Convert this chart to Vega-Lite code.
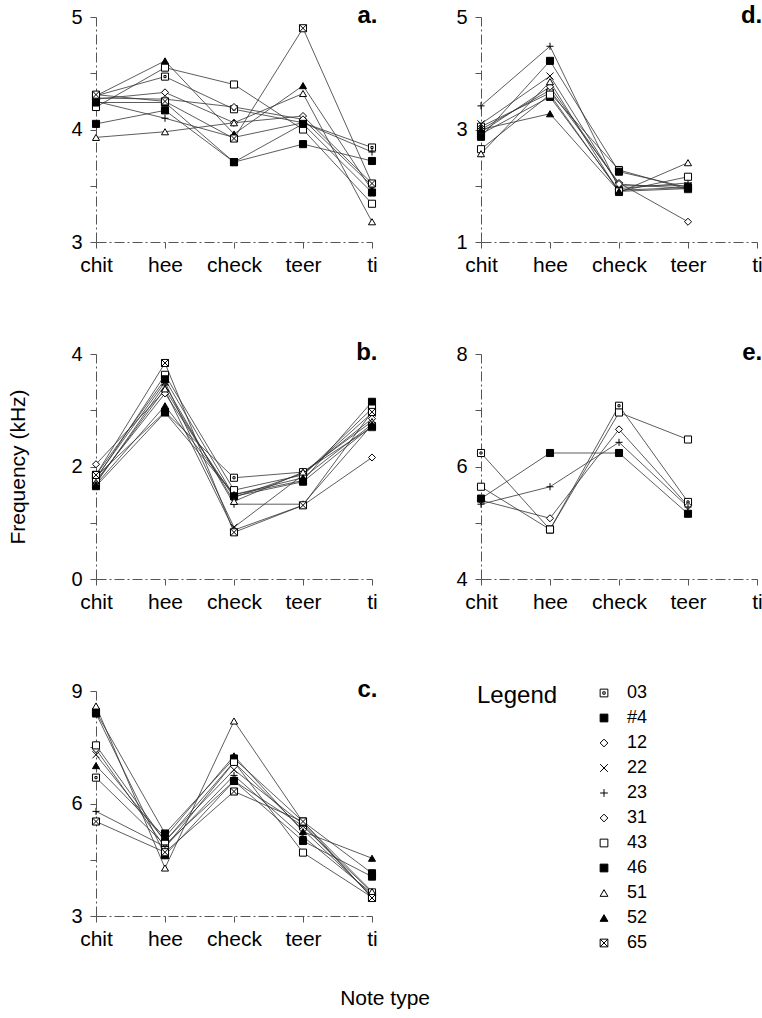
{
  "$schema": "https://vega.github.io/schema/vega-lite/v6.json",
  "background": "white",
  "padding": {"left": 7, "top": 4, "right": 2, "bottom": 2},
  "title": {"text": "Note type", "orient": "bottom", "anchor": "middle", "fontSize": 21, "fontWeight": "normal", "font": "Liberation Sans", "color": "black", "offset": 36},
  "columns": 2,
  "spacing": {"row": 66, "column": 77},
  "resolve": {"scale": {"x": "independent", "y": "independent", "shape": "shared", "fill": "shared", "stroke": "shared"}, "legend": {"shape": "shared", "fill": "shared", "stroke": "shared"}},
  "datasets": {
    "notes": [
      {"panel": "a", "series": "03", "note": "chit", "freq": 4.30}, {"panel": "a", "series": "03", "note": "hee", "freq": 4.47}, {"panel": "a", "series": "03", "note": "check", "freq": 4.18}, {"panel": "a", "series": "03", "note": "teer", "freq": 4.06}, {"panel": "a", "series": "03", "note": "ti", "freq": 3.84},
      {"panel": "a", "series": "#4", "note": "chit", "freq": 4.05}, {"panel": "a", "series": "#4", "note": "hee", "freq": 4.17}, {"panel": "a", "series": "#4", "note": "check", "freq": 3.71}, {"panel": "a", "series": "#4", "note": "teer", "freq": 3.87}, {"panel": "a", "series": "#4", "note": "ti", "freq": 3.72},
      {"panel": "a", "series": "12", "note": "chit", "freq": 4.27}, {"panel": "a", "series": "12", "note": "hee", "freq": 4.33}, {"panel": "a", "series": "12", "note": "check", "freq": 4.06}, {"panel": "a", "series": "12", "note": "teer", "freq": 4.12}, {"panel": "a", "series": "12", "note": "ti", "freq": 3.52},
      {"panel": "a", "series": "23", "note": "chit", "freq": 4.25}, {"panel": "a", "series": "23", "note": "hee", "freq": 4.10}, {"panel": "a", "series": "23", "note": "check", "freq": 3.93}, {"panel": "a", "series": "23", "note": "teer", "freq": 4.06}, {"panel": "a", "series": "23", "note": "ti", "freq": 3.80},
      {"panel": "a", "series": "31", "note": "chit", "freq": 4.28}, {"panel": "a", "series": "31", "note": "hee", "freq": 4.27}, {"panel": "a", "series": "31", "note": "check", "freq": 4.20}, {"panel": "a", "series": "31", "note": "teer", "freq": 4.09}, {"panel": "a", "series": "31", "note": "ti", "freq": 3.50},
      {"panel": "a", "series": "43", "note": "chit", "freq": 4.20}, {"panel": "a", "series": "43", "note": "hee", "freq": 4.55}, {"panel": "a", "series": "43", "note": "check", "freq": 4.40}, {"panel": "a", "series": "43", "note": "teer", "freq": 4.00}, {"panel": "a", "series": "43", "note": "ti", "freq": 3.34},
      {"panel": "a", "series": "46", "note": "chit", "freq": 4.24}, {"panel": "a", "series": "46", "note": "hee", "freq": 4.24}, {"panel": "a", "series": "46", "note": "check", "freq": 3.71}, {"panel": "a", "series": "46", "note": "teer", "freq": 4.05}, {"panel": "a", "series": "46", "note": "ti", "freq": 3.44},
      {"panel": "a", "series": "51", "note": "chit", "freq": 3.93}, {"panel": "a", "series": "51", "note": "hee", "freq": 3.98}, {"panel": "a", "series": "51", "note": "check", "freq": 4.06}, {"panel": "a", "series": "51", "note": "teer", "freq": 4.32}, {"panel": "a", "series": "51", "note": "ti", "freq": 3.18},
      {"panel": "a", "series": "52", "note": "chit", "freq": 4.30}, {"panel": "a", "series": "52", "note": "hee", "freq": 4.61}, {"panel": "a", "series": "52", "note": "check", "freq": 3.96}, {"panel": "a", "series": "52", "note": "teer", "freq": 4.39}, {"panel": "a", "series": "52", "note": "ti", "freq": 3.46},
      {"panel": "a", "series": "65", "note": "chit", "freq": 4.31}, {"panel": "a", "series": "65", "note": "hee", "freq": 4.25}, {"panel": "a", "series": "65", "note": "check", "freq": 3.92}, {"panel": "a", "series": "65", "note": "teer", "freq": 4.90}, {"panel": "a", "series": "65", "note": "ti", "freq": 3.52},

      {"panel": "d", "series": "03", "note": "chit", "freq": 3.05}, {"panel": "d", "series": "03", "note": "hee", "freq": 3.65}, {"panel": "d", "series": "03", "note": "check", "freq": 2.28}, {"panel": "d", "series": "03", "note": "teer", "freq": 1.94},
      {"panel": "d", "series": "#4", "note": "chit", "freq": 2.92}, {"panel": "d", "series": "#4", "note": "hee", "freq": 3.58}, {"panel": "d", "series": "#4", "note": "check", "freq": 1.92}, {"panel": "d", "series": "#4", "note": "teer", "freq": 1.97},
      {"panel": "d", "series": "12", "note": "chit", "freq": 3.00}, {"panel": "d", "series": "12", "note": "hee", "freq": 3.70}, {"panel": "d", "series": "12", "note": "check", "freq": 2.05}, {"panel": "d", "series": "12", "note": "teer", "freq": 1.36},
      {"panel": "d", "series": "22", "note": "chit", "freq": 3.10}, {"panel": "d", "series": "22", "note": "hee", "freq": 3.95}, {"panel": "d", "series": "22", "note": "check", "freq": 2.00}, {"panel": "d", "series": "22", "note": "teer", "freq": 2.00},
      {"panel": "d", "series": "23", "note": "chit", "freq": 3.42}, {"panel": "d", "series": "23", "note": "hee", "freq": 4.48}, {"panel": "d", "series": "23", "note": "check", "freq": 1.95}, {"panel": "d", "series": "23", "note": "teer", "freq": 2.05},
      {"panel": "d", "series": "31", "note": "chit", "freq": 2.95}, {"panel": "d", "series": "31", "note": "hee", "freq": 3.76}, {"panel": "d", "series": "31", "note": "check", "freq": 2.03}, {"panel": "d", "series": "31", "note": "teer", "freq": 1.95},
      {"panel": "d", "series": "43", "note": "chit", "freq": 2.65}, {"panel": "d", "series": "43", "note": "hee", "freq": 3.62}, {"panel": "d", "series": "43", "note": "check", "freq": 1.90}, {"panel": "d", "series": "43", "note": "teer", "freq": 2.16},
      {"panel": "d", "series": "46", "note": "chit", "freq": 2.87}, {"panel": "d", "series": "46", "note": "hee", "freq": 4.22}, {"panel": "d", "series": "46", "note": "check", "freq": 2.25}, {"panel": "d", "series": "46", "note": "teer", "freq": 1.97},
      {"panel": "d", "series": "51", "note": "chit", "freq": 2.57}, {"panel": "d", "series": "51", "note": "hee", "freq": 3.85}, {"panel": "d", "series": "51", "note": "check", "freq": 1.88}, {"panel": "d", "series": "51", "note": "teer", "freq": 2.41},
      {"panel": "d", "series": "52", "note": "chit", "freq": 3.00}, {"panel": "d", "series": "52", "note": "hee", "freq": 3.28}, {"panel": "d", "series": "52", "note": "check", "freq": 1.90}, {"panel": "d", "series": "52", "note": "teer", "freq": 1.95},

      {"panel": "b", "series": "03", "note": "chit", "freq": 1.82}, {"panel": "b", "series": "03", "note": "hee", "freq": 2.97}, {"panel": "b", "series": "03", "note": "check", "freq": 1.80}, {"panel": "b", "series": "03", "note": "teer", "freq": 1.90}, {"panel": "b", "series": "03", "note": "ti", "freq": 2.70},
      {"panel": "b", "series": "#4", "note": "chit", "freq": 1.65}, {"panel": "b", "series": "#4", "note": "hee", "freq": 2.96}, {"panel": "b", "series": "#4", "note": "check", "freq": 1.50}, {"panel": "b", "series": "#4", "note": "teer", "freq": 1.75}, {"panel": "b", "series": "#4", "note": "ti", "freq": 3.15},
      {"panel": "b", "series": "12", "note": "chit", "freq": 2.04}, {"panel": "b", "series": "12", "note": "hee", "freq": 3.35}, {"panel": "b", "series": "12", "note": "check", "freq": 0.87}, {"panel": "b", "series": "12", "note": "teer", "freq": 1.31}, {"panel": "b", "series": "12", "note": "ti", "freq": 2.16},
      {"panel": "b", "series": "22", "note": "chit", "freq": 1.80}, {"panel": "b", "series": "22", "note": "hee", "freq": 3.50}, {"panel": "b", "series": "22", "note": "check", "freq": 0.92}, {"panel": "b", "series": "22", "note": "teer", "freq": 1.85}, {"panel": "b", "series": "22", "note": "ti", "freq": 2.95},
      {"panel": "b", "series": "23", "note": "chit", "freq": 1.70}, {"panel": "b", "series": "23", "note": "hee", "freq": 3.45}, {"panel": "b", "series": "23", "note": "check", "freq": 1.33}, {"panel": "b", "series": "23", "note": "teer", "freq": 1.33}, {"panel": "b", "series": "23", "note": "ti", "freq": 2.74},
      {"panel": "b", "series": "31", "note": "chit", "freq": 1.75}, {"panel": "b", "series": "31", "note": "hee", "freq": 3.30}, {"panel": "b", "series": "31", "note": "check", "freq": 1.45}, {"panel": "b", "series": "31", "note": "teer", "freq": 1.88}, {"panel": "b", "series": "31", "note": "ti", "freq": 2.85},
      {"panel": "b", "series": "43", "note": "chit", "freq": 1.78}, {"panel": "b", "series": "43", "note": "hee", "freq": 3.63}, {"panel": "b", "series": "43", "note": "check", "freq": 1.58}, {"panel": "b", "series": "43", "note": "teer", "freq": 1.85}, {"panel": "b", "series": "43", "note": "ti", "freq": 3.03},
      {"panel": "b", "series": "46", "note": "chit", "freq": 1.85}, {"panel": "b", "series": "46", "note": "hee", "freq": 3.55}, {"panel": "b", "series": "46", "note": "check", "freq": 1.47}, {"panel": "b", "series": "46", "note": "teer", "freq": 1.73}, {"panel": "b", "series": "46", "note": "ti", "freq": 2.72},
      {"panel": "b", "series": "51", "note": "chit", "freq": 1.72}, {"panel": "b", "series": "51", "note": "hee", "freq": 3.38}, {"panel": "b", "series": "51", "note": "check", "freq": 1.38}, {"panel": "b", "series": "51", "note": "teer", "freq": 1.90}, {"panel": "b", "series": "51", "note": "ti", "freq": 2.80},
      {"panel": "b", "series": "52", "note": "chit", "freq": 1.68}, {"panel": "b", "series": "52", "note": "hee", "freq": 3.08}, {"panel": "b", "series": "52", "note": "check", "freq": 1.50}, {"panel": "b", "series": "52", "note": "teer", "freq": 1.80}, {"panel": "b", "series": "52", "note": "ti", "freq": 2.75},
      {"panel": "b", "series": "65", "note": "chit", "freq": 1.85}, {"panel": "b", "series": "65", "note": "hee", "freq": 3.84}, {"panel": "b", "series": "65", "note": "check", "freq": 0.83}, {"panel": "b", "series": "65", "note": "teer", "freq": 1.31}, {"panel": "b", "series": "65", "note": "ti", "freq": 2.97},

      {"panel": "e", "series": "03", "note": "chit", "freq": 6.24}, {"panel": "e", "series": "03", "note": "hee", "freq": 4.88}, {"panel": "e", "series": "03", "note": "check", "freq": 7.08}, {"panel": "e", "series": "03", "note": "teer", "freq": 5.37},
      {"panel": "e", "series": "12", "note": "chit", "freq": 5.40}, {"panel": "e", "series": "12", "note": "hee", "freq": 5.08}, {"panel": "e", "series": "12", "note": "check", "freq": 6.66}, {"panel": "e", "series": "12", "note": "teer", "freq": 5.30},
      {"panel": "e", "series": "23", "note": "chit", "freq": 5.33}, {"panel": "e", "series": "23", "note": "hee", "freq": 5.64}, {"panel": "e", "series": "23", "note": "check", "freq": 6.43}, {"panel": "e", "series": "23", "note": "teer", "freq": 5.28},
      {"panel": "e", "series": "43", "note": "chit", "freq": 5.64}, {"panel": "e", "series": "43", "note": "hee", "freq": 4.88}, {"panel": "e", "series": "43", "note": "check", "freq": 6.96}, {"panel": "e", "series": "43", "note": "teer", "freq": 6.48},
      {"panel": "e", "series": "46", "note": "chit", "freq": 5.43}, {"panel": "e", "series": "46", "note": "hee", "freq": 6.24}, {"panel": "e", "series": "46", "note": "check", "freq": 6.24}, {"panel": "e", "series": "46", "note": "teer", "freq": 5.16},

      {"panel": "c", "series": "03", "note": "chit", "freq": 6.69}, {"panel": "c", "series": "03", "note": "hee", "freq": 4.90}, {"panel": "c", "series": "03", "note": "check", "freq": 6.60}, {"panel": "c", "series": "03", "note": "teer", "freq": 5.40}, {"panel": "c", "series": "03", "note": "ti", "freq": 3.63},
      {"panel": "c", "series": "#4", "note": "chit", "freq": 8.44}, {"panel": "c", "series": "#4", "note": "hee", "freq": 5.20}, {"panel": "c", "series": "#4", "note": "check", "freq": 7.20}, {"panel": "c", "series": "#4", "note": "teer", "freq": 5.52}, {"panel": "c", "series": "#4", "note": "ti", "freq": 4.14},
      {"panel": "c", "series": "12", "note": "chit", "freq": 7.45}, {"panel": "c", "series": "12", "note": "hee", "freq": 4.83}, {"panel": "c", "series": "12", "note": "check", "freq": 7.10}, {"panel": "c", "series": "12", "note": "teer", "freq": 5.30}, {"panel": "c", "series": "12", "note": "ti", "freq": 3.55},
      {"panel": "c", "series": "22", "note": "chit", "freq": 7.30}, {"panel": "c", "series": "22", "note": "hee", "freq": 5.00}, {"panel": "c", "series": "22", "note": "check", "freq": 6.90}, {"panel": "c", "series": "22", "note": "teer", "freq": 5.45}, {"panel": "c", "series": "22", "note": "ti", "freq": 3.50},
      {"panel": "c", "series": "23", "note": "chit", "freq": 5.79}, {"panel": "c", "series": "23", "note": "hee", "freq": 4.85}, {"panel": "c", "series": "23", "note": "check", "freq": 6.75}, {"panel": "c", "series": "23", "note": "teer", "freq": 5.12}, {"panel": "c", "series": "23", "note": "ti", "freq": 3.60},
      {"panel": "c", "series": "43", "note": "chit", "freq": 7.55}, {"panel": "c", "series": "43", "note": "hee", "freq": 4.99}, {"panel": "c", "series": "43", "note": "check", "freq": 7.11}, {"panel": "c", "series": "43", "note": "teer", "freq": 4.69}, {"panel": "c", "series": "43", "note": "ti", "freq": 3.50},
      {"panel": "c", "series": "46", "note": "chit", "freq": 8.40}, {"panel": "c", "series": "46", "note": "hee", "freq": 4.62}, {"panel": "c", "series": "46", "note": "check", "freq": 6.60}, {"panel": "c", "series": "46", "note": "teer", "freq": 5.00}, {"panel": "c", "series": "46", "note": "ti", "freq": 4.05},
      {"panel": "c", "series": "51", "note": "chit", "freq": 8.60}, {"panel": "c", "series": "51", "note": "hee", "freq": 4.28}, {"panel": "c", "series": "51", "note": "check", "freq": 8.20}, {"panel": "c", "series": "51", "note": "teer", "freq": 5.50}, {"panel": "c", "series": "51", "note": "ti", "freq": 3.65},
      {"panel": "c", "series": "52", "note": "chit", "freq": 7.01}, {"panel": "c", "series": "52", "note": "hee", "freq": 5.10}, {"panel": "c", "series": "52", "note": "check", "freq": 7.27}, {"panel": "c", "series": "52", "note": "teer", "freq": 5.25}, {"panel": "c", "series": "52", "note": "ti", "freq": 4.54},
      {"panel": "c", "series": "65", "note": "chit", "freq": 5.52}, {"panel": "c", "series": "65", "note": "hee", "freq": 4.70}, {"panel": "c", "series": "65", "note": "check", "freq": 6.32}, {"panel": "c", "series": "65", "note": "teer", "freq": 5.52}, {"panel": "c", "series": "65", "note": "ti", "freq": 3.48}
    ]
  },
  "data": {"name": "notes"},
  "concat": [
    {
      "width": 276, "height": 225,
      "title": {"text": "a.", "anchor": "end", "offset": -21},
      "transform": [{"filter": "datum.panel == 'a'"}],
      "encoding": {
        "x": {"field": "note", "type": "ordinal", "sort": ["chit", "hee", "check", "teer", "ti"], "scale": {"type": "point", "domain": ["chit", "hee", "check", "teer", "ti"], "padding": 0}, "axis": {"title": null}},
        "y": {"field": "freq", "type": "quantitative", "scale": {"domain": [3, 5], "nice": false, "zero": false}, "axis": {"title": null, "values": [3, 3.5, 4, 4.5, 5], "labelExpr": "datum.value % 1 == 0 ? format(datum.value, 'd') : ''"}}
      },
      "layer": [
        {"mark": {"type": "line", "color": "#333", "strokeWidth": 0.8}, "encoding": {"detail": {"field": "series"}}},
        {"mark": {"type": "point", "filled": true, "strokeWidth": 1, "size": 50, "opacity": 1},
         "encoding": {
           "shape": {"field": "series", "type": "nominal", "scale": {"domain": ["03", "#4", "12", "22", "23", "31", "43", "46", "51", "52", "65"], "range": ["M-1,-1H1V1H-1Z M-0.3,-0.3H0.3V0.3H-0.3Z", "square", "diamond", "M-1,-1L1,1M-1,1L1,-1", "M-1,0H1M0,-1V1", "diamond", "square", "square", "triangle-up", "triangle-up", "M-1,-1H1V1H-1Z M-1,-1L1,1M1,-1L-1,1"]}, "legend": {"title": "Legend", "orient": "none", "legendX": 381, "legendY": 667}},
           "fill": {"field": "series", "type": "nominal", "scale": {"domain": ["03", "#4", "12", "22", "23", "31", "43", "46", "51", "52", "65"], "range": ["white", "black", "white", "white", "white", "white", "white", "black", "white", "black", "white"]}, "legend": {"title": "Legend", "orient": "none", "legendX": 381, "legendY": 667}},
           "stroke": {"field": "series", "type": "nominal", "scale": {"domain": ["03", "#4", "12", "22", "23", "31", "43", "46", "51", "52", "65"], "range": ["black", "black", "black", "black", "black", "black", "black", "black", "black", "black", "black"]}, "legend": {"title": "Legend", "orient": "none", "legendX": 381, "legendY": 667}}
         }}
      ]
    },
    {
      "width": 276, "height": 225,
      "title": {"text": "d.", "anchor": "end", "offset": -21},
      "transform": [{"filter": "datum.panel == 'd'"}],
      "encoding": {
        "x": {"field": "note", "type": "ordinal", "sort": ["chit", "hee", "check", "teer", "ti"], "scale": {"type": "point", "domain": ["chit", "hee", "check", "teer", "ti"], "padding": 0}, "axis": {"title": null}},
        "y": {"field": "freq", "type": "quantitative", "scale": {"domain": [1, 5], "nice": false, "zero": false}, "axis": {"title": null, "values": [1, 2, 3, 4, 5], "labelExpr": "datum.value % 2 == 1 ? datum.label : ''"}}
      },
      "layer": [
        {"mark": {"type": "line", "color": "#333", "strokeWidth": 0.8}, "encoding": {"detail": {"field": "series"}}},
        {"mark": {"type": "point", "filled": true, "strokeWidth": 1, "size": 50, "opacity": 1},
         "encoding": {
           "shape": {"field": "series", "type": "nominal", "scale": {"domain": ["03", "#4", "12", "22", "23", "31", "43", "46", "51", "52", "65"], "range": ["M-1,-1H1V1H-1Z M-0.3,-0.3H0.3V0.3H-0.3Z", "square", "diamond", "M-1,-1L1,1M-1,1L1,-1", "M-1,0H1M0,-1V1", "diamond", "square", "square", "triangle-up", "triangle-up", "M-1,-1H1V1H-1Z M-1,-1L1,1M1,-1L-1,1"]}, "legend": {"title": "Legend", "orient": "none", "legendX": 381, "legendY": 667}},
           "fill": {"field": "series", "type": "nominal", "scale": {"domain": ["03", "#4", "12", "22", "23", "31", "43", "46", "51", "52", "65"], "range": ["white", "black", "white", "white", "white", "white", "white", "black", "white", "black", "white"]}, "legend": {"title": "Legend", "orient": "none", "legendX": 381, "legendY": 667}},
           "stroke": {"field": "series", "type": "nominal", "scale": {"domain": ["03", "#4", "12", "22", "23", "31", "43", "46", "51", "52", "65"], "range": ["black", "black", "black", "black", "black", "black", "black", "black", "black", "black", "black"]}, "legend": {"title": "Legend", "orient": "none", "legendX": 381, "legendY": 667}}
         }}
      ]
    },
    {
      "width": 276, "height": 225,
      "title": {"text": "b.", "anchor": "end", "offset": -21},
      "transform": [{"filter": "datum.panel == 'b'"}],
      "encoding": {
        "x": {"field": "note", "type": "ordinal", "sort": ["chit", "hee", "check", "teer", "ti"], "scale": {"type": "point", "domain": ["chit", "hee", "check", "teer", "ti"], "padding": 0}, "axis": {"title": null}},
        "y": {"field": "freq", "type": "quantitative", "scale": {"domain": [0, 4], "nice": false, "zero": false}, "axis": {"title": "Frequency  (kHz)", "titlePadding": 42, "values": [0, 1, 2, 3, 4], "labelExpr": "datum.value % 2 == 0 ? datum.label : ''"}}
      },
      "layer": [
        {"mark": {"type": "line", "color": "#333", "strokeWidth": 0.8}, "encoding": {"detail": {"field": "series"}}},
        {"mark": {"type": "point", "filled": true, "strokeWidth": 1, "size": 50, "opacity": 1},
         "encoding": {
           "shape": {"field": "series", "type": "nominal", "scale": {"domain": ["03", "#4", "12", "22", "23", "31", "43", "46", "51", "52", "65"], "range": ["M-1,-1H1V1H-1Z M-0.3,-0.3H0.3V0.3H-0.3Z", "square", "diamond", "M-1,-1L1,1M-1,1L1,-1", "M-1,0H1M0,-1V1", "diamond", "square", "square", "triangle-up", "triangle-up", "M-1,-1H1V1H-1Z M-1,-1L1,1M1,-1L-1,1"]}, "legend": {"title": "Legend", "orient": "none", "legendX": 381, "legendY": 667}},
           "fill": {"field": "series", "type": "nominal", "scale": {"domain": ["03", "#4", "12", "22", "23", "31", "43", "46", "51", "52", "65"], "range": ["white", "black", "white", "white", "white", "white", "white", "black", "white", "black", "white"]}, "legend": {"title": "Legend", "orient": "none", "legendX": 381, "legendY": 667}},
           "stroke": {"field": "series", "type": "nominal", "scale": {"domain": ["03", "#4", "12", "22", "23", "31", "43", "46", "51", "52", "65"], "range": ["black", "black", "black", "black", "black", "black", "black", "black", "black", "black", "black"]}, "legend": {"title": "Legend", "orient": "none", "legendX": 381, "legendY": 667}}
         }}
      ]
    },
    {
      "width": 276, "height": 225,
      "title": {"text": "e.", "anchor": "end", "offset": -21},
      "transform": [{"filter": "datum.panel == 'e'"}],
      "encoding": {
        "x": {"field": "note", "type": "ordinal", "sort": ["chit", "hee", "check", "teer", "ti"], "scale": {"type": "point", "domain": ["chit", "hee", "check", "teer", "ti"], "padding": 0}, "axis": {"title": null}},
        "y": {"field": "freq", "type": "quantitative", "scale": {"domain": [4, 8], "nice": false, "zero": false}, "axis": {"title": null, "values": [4, 5, 6, 7, 8], "labelExpr": "datum.value % 2 == 0 ? datum.label : ''"}}
      },
      "layer": [
        {"mark": {"type": "line", "color": "#333", "strokeWidth": 0.8}, "encoding": {"detail": {"field": "series"}}},
        {"mark": {"type": "point", "filled": true, "strokeWidth": 1, "size": 50, "opacity": 1},
         "encoding": {
           "shape": {"field": "series", "type": "nominal", "scale": {"domain": ["03", "#4", "12", "22", "23", "31", "43", "46", "51", "52", "65"], "range": ["M-1,-1H1V1H-1Z M-0.3,-0.3H0.3V0.3H-0.3Z", "square", "diamond", "M-1,-1L1,1M-1,1L1,-1", "M-1,0H1M0,-1V1", "diamond", "square", "square", "triangle-up", "triangle-up", "M-1,-1H1V1H-1Z M-1,-1L1,1M1,-1L-1,1"]}, "legend": {"title": "Legend", "orient": "none", "legendX": 381, "legendY": 667}},
           "fill": {"field": "series", "type": "nominal", "scale": {"domain": ["03", "#4", "12", "22", "23", "31", "43", "46", "51", "52", "65"], "range": ["white", "black", "white", "white", "white", "white", "white", "black", "white", "black", "white"]}, "legend": {"title": "Legend", "orient": "none", "legendX": 381, "legendY": 667}},
           "stroke": {"field": "series", "type": "nominal", "scale": {"domain": ["03", "#4", "12", "22", "23", "31", "43", "46", "51", "52", "65"], "range": ["black", "black", "black", "black", "black", "black", "black", "black", "black", "black", "black"]}, "legend": {"title": "Legend", "orient": "none", "legendX": 381, "legendY": 667}}
         }}
      ]
    },
    {
      "width": 276, "height": 225,
      "title": {"text": "c.", "anchor": "end", "offset": -21},
      "transform": [{"filter": "datum.panel == 'c'"}],
      "encoding": {
        "x": {"field": "note", "type": "ordinal", "sort": ["chit", "hee", "check", "teer", "ti"], "scale": {"type": "point", "domain": ["chit", "hee", "check", "teer", "ti"], "padding": 0}, "axis": {"title": null}},
        "y": {"field": "freq", "type": "quantitative", "scale": {"domain": [3, 9], "nice": false, "zero": false}, "axis": {"title": null, "values": [3, 4.5, 6, 7.5, 9], "labelExpr": "datum.value % 3 == 0 ? format(datum.value, 'd') : ''"}}
      },
      "layer": [
        {"mark": {"type": "line", "color": "#333", "strokeWidth": 0.8}, "encoding": {"detail": {"field": "series"}}},
        {"mark": {"type": "point", "filled": true, "strokeWidth": 1, "size": 50, "opacity": 1},
         "encoding": {
           "shape": {"field": "series", "type": "nominal", "scale": {"domain": ["03", "#4", "12", "22", "23", "31", "43", "46", "51", "52", "65"], "range": ["M-1,-1H1V1H-1Z M-0.3,-0.3H0.3V0.3H-0.3Z", "square", "diamond", "M-1,-1L1,1M-1,1L1,-1", "M-1,0H1M0,-1V1", "diamond", "square", "square", "triangle-up", "triangle-up", "M-1,-1H1V1H-1Z M-1,-1L1,1M1,-1L-1,1"]}, "legend": {"title": "Legend", "orient": "none", "legendX": 381, "legendY": 667}},
           "fill": {"field": "series", "type": "nominal", "scale": {"domain": ["03", "#4", "12", "22", "23", "31", "43", "46", "51", "52", "65"], "range": ["white", "black", "white", "white", "white", "white", "white", "black", "white", "black", "white"]}, "legend": {"title": "Legend", "orient": "none", "legendX": 381, "legendY": 667}},
           "stroke": {"field": "series", "type": "nominal", "scale": {"domain": ["03", "#4", "12", "22", "23", "31", "43", "46", "51", "52", "65"], "range": ["black", "black", "black", "black", "black", "black", "black", "black", "black", "black", "black"]}, "legend": {"title": "Legend", "orient": "none", "legendX": 381, "legendY": 667}}
         }}
      ]
    }
  ],
  "config": {
    "view": {"stroke": null},
    "font": "Liberation Sans",
    "axis": {"grid": false, "labelFont": "Liberation Sans", "labelColor": "black", "labelFontSize": 20, "domainColor": "#555", "domainWidth": 1, "domainDash": [10, 3, 2, 3], "tickColor": "#555", "tickSize": 6, "labelPadding": 8, "titleFont": "Liberation Sans", "titleFontSize": 21, "titleFontWeight": "normal", "titleColor": "black"},
    "axisX": {"labelAngle": 0, "labelFontSize": 21, "labelPadding": 6, "labelOverlap": false},
    "title": {"font": "Liberation Sans", "fontSize": 24, "fontWeight": "bold", "color": "black"},
    "legend": {"titleOrient": "left", "titleAngle": 0, "titleAnchor": "start", "titleFont": "Liberation Sans", "titleFontSize": 24, "titleFontWeight": "normal", "titleColor": "black", "titlePadding": 37, "labelFont": "Liberation Sans", "labelFontSize": 18, "labelColor": "black", "labelOffset": 14, "symbolSize": 60, "symbolStrokeWidth": 1, "rowPadding": 7}
  }
}
